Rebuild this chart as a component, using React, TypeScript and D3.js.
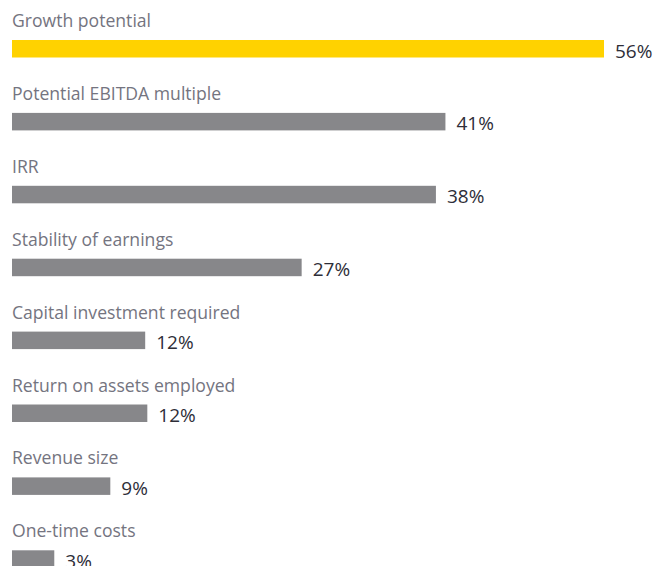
import React from 'react';
import { scaleBand, scaleLinear, select } from 'd3';

// categories top to bottom
const categories = [
  'Growth potential',
  'Potential EBITDA multiple',
  'IRR',
  'Stability of earnings',
  'Capital investment required',
  'Return on assets employed',
  'Revenue size',
  'One-time costs',
];
// printed labels
const shareLabels = ['56%', '41%', '38%', '27%', '12%', '12%', '9%', '3%'];
// bar lengths
const barValues = [56, 41, 40.1, 27.4, 12.6, 12.8, 9.3, 4];

const dims = {
  width: 654,
  height: 566,
  left: 12,
  maxRight: 604,
  rowStep: 72.9,
  barOffset: 40,
  barHeight: 17.5,
};

const App: React.FC = () => {
  const svgRef = React.useRef<SVGSVGElement>(null);

  React.useEffect(() => {
    const svg = select(svgRef.current);
    svg.selectAll('*').remove();

    const x = scaleLinear().domain([0, 56]).range([dims.left, dims.maxRight]);
    const y = scaleBand()
      .domain(categories)
      .range([0, dims.rowStep * categories.length]);

    const rows = svg
      .selectAll('g.row')
      .data(categories)
      .join('g')
      .attr('class', 'row')
      .attr('transform', d => `translate(0, ${y(d)})`);

    rows
      .append('text')
      .attr('x', dims.left)
      .attr('y', dims.barOffset - 13)
      .attr('fill', '#747480')
      .attr('font-size', 17.6)
      .text(d => d);

    rows
      .append('rect')
      .attr('x', dims.left)
      .attr('y', dims.barOffset)
      .attr('height', dims.barHeight)
      .attr('width', (d, i) => x(barValues[i]) - x(0))
      .attr('fill', (d, i) => (i === 0 ? '#FFD200' : '#87878a'));

    rows
      .append('text')
      .attr('x', (d, i) => x(barValues[i]) + 11)
      .attr('y', dims.barOffset + dims.barHeight)
      .attr('fill', '#2e2e38')
      .attr('font-size', 19)
      .text((d, i) => shareLabels[i]);
  }, []);

  return (
    <svg
      ref={svgRef}
      width={dims.width}
      height={dims.height}
      style={{ position: 'absolute', left: 0, top: 0, fontFamily: '"Open Sans", sans-serif' }}
    ></svg>
  );
};

export default App;
